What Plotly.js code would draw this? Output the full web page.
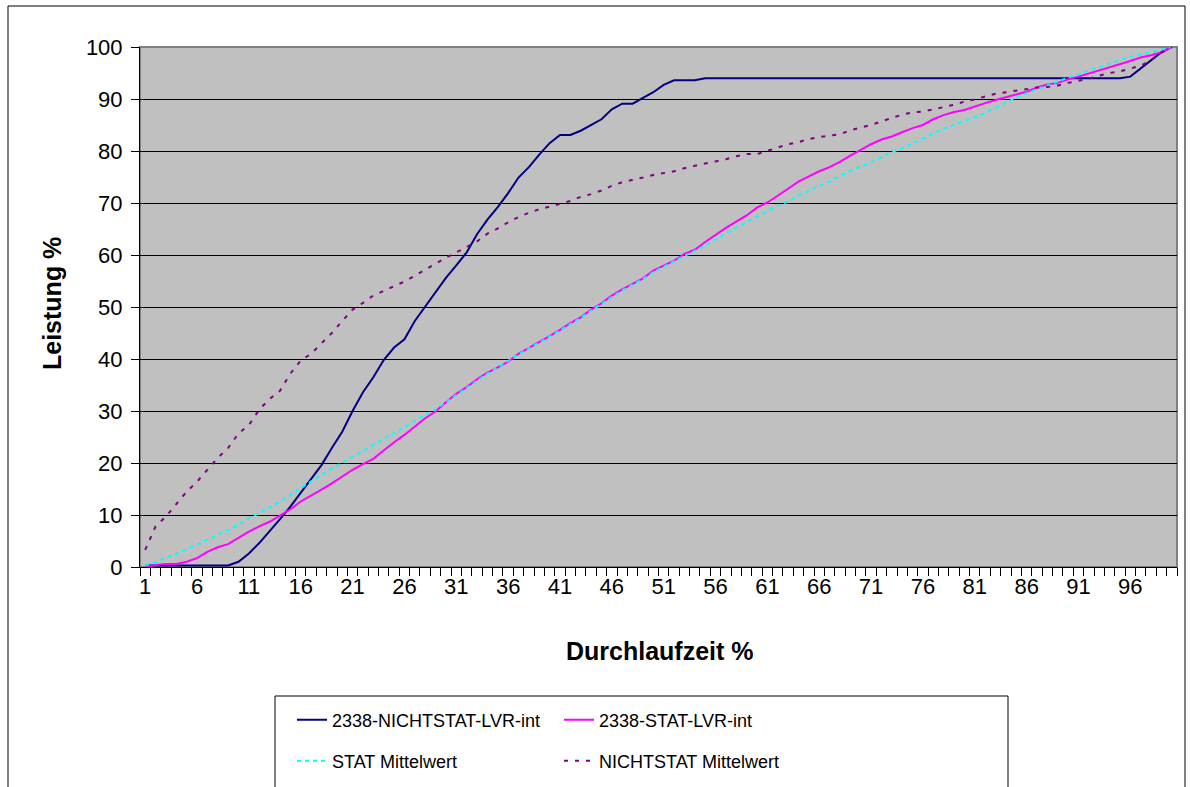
<!DOCTYPE html>
<html>
<head>
<meta charset="utf-8">
<script src="https://cdn.plot.ly/plotly-3.0.1.min.js"></script>
<style>html,body{margin:0;padding:0;background:#fff;}#chart{width:1190px;height:787px;}</style>
</head>
<body>
<div id="chart"></div>
<script>
// ---- data ----
const categories = [1,2,3,4,5,6,7,8,9,10,11,12,13,14,15,16,17,18,19,20,21,22,23,24,25,26,27,28,29,30,
31,32,33,34,35,36,37,38,39,40,41,42,43,44,45,46,47,48,49,50,51,52,53,54,55,56,57,58,59,60,
61,62,63,64,65,66,67,68,69,70,71,72,73,74,75,76,77,78,79,80,81,82,83,84,85,86,87,88,89,90,
91,92,93,94,95,96,97,98,99,100];
const xTickLabels = ['1','6','11','16','21','26','31','36','41','46','51','56','61','66','71','76','81','86','91','96'];
const seriesNames = ['2338-NICHTSTAT-LVR-int','2338-STAT-LVR-int','STAT Mittelwert','NICHTSTAT Mittelwert'];

const nichtstatLVR = [0.3,0.3,0.3,0.3,0.3,0.3,0.3,0.3,0.3,1.0,
 2.6,4.6,6.8,9.2,11.6,14.2,17.0,19.6,22.9,26.0,
 30.0,33.6,36.5,39.8,42.2,43.8,47.3,50.1,52.8,55.6,
 58.0,60.5,64.0,66.8,69.2,71.9,74.9,76.9,79.3,81.5,
 83.1,83.1,83.9,85.0,86.1,88.0,89.1,89.1,90.2,91.3,
 92.7,93.6,93.6,93.6,94.0,94.0,94.0,94.0,94.0,94.0,
 94.0,94.0,94.0,94.0,94.0,94.0,94.0,94.0,94.0,94.0,
 94.0,94.0,94.0,94.0,94.0,94.0,94.0,94.0,94.0,94.0,
 94.0,94.0,94.0,94.0,94.0,94.0,94.0,94.0,94.0,94.0,
 94.0,94.0,94.0,94.0,94.0,94.3,95.9,97.5,99.0,100];
const statLVR = [0,0.4,0.6,0.6,1.0,1.7,2.9,3.8,4.4,5.6,
 6.8,7.8,8.7,9.9,11.1,12.6,13.7,14.9,16.1,17.4,
 18.7,19.8,20.8,22.4,24.0,25.4,27.0,28.6,29.9,31.7,
 33.3,34.6,36.1,37.4,38.4,39.5,41.0,42.1,43.2,44.4,
 45.6,46.9,48.0,49.5,50.7,52.2,53.4,54.4,55.5,57.0,
 57.9,58.9,60.2,61.0,62.5,63.9,65.2,66.4,67.6,69.1,
 70.1,71.4,72.8,74.1,75.1,76.1,76.9,77.9,79.1,80.2,
 81.3,82.2,82.8,83.6,84.4,85.0,86.1,86.9,87.5,87.9,
 88.6,89.2,89.8,90.3,90.9,91.4,92.2,92.8,93.1,93.8,
 94.3,94.9,95.4,96.0,96.6,97.3,98.0,98.4,99.0,100];
const statMittel = [0.3,0.9,1.8,2.5,3.4,4.3,5.3,6.2,7.1,8.1,
 9.4,10.4,11.4,12.6,13.8,15.2,16.5,17.7,18.9,20.1,
 21.2,22.3,23.4,24.6,25.8,26.8,28.1,29.3,30.3,31.7,
 33.1,34.5,35.9,37.2,38.4,39.6,40.9,42.1,43.1,44.3,
 45.6,46.8,47.9,49.3,50.6,52.0,53.2,54.3,55.4,56.7,
 57.8,58.8,59.8,60.8,61.8,63.0,64.2,65.3,66.3,67.3,
 68.4,69.5,70.3,71.4,72.4,73.3,74.1,75.1,76.2,77.0,
 77.8,78.8,79.8,80.5,81.4,82.3,83.3,84.3,85.0,85.8,
 86.5,87.3,88.3,89.4,90.3,91.1,91.9,92.7,93.4,94.1,
 94.8,95.5,96.2,96.9,97.5,98.1,98.6,99.0,99.6,100];
const nichtstatMittel = [3.3,7.8,9.7,12.2,14.5,16.4,18.7,21.0,22.9,25.7,
 27.3,30.3,32.3,33.9,37.2,39.7,41.0,43.0,45.0,47.3,
 49.5,50.8,52.2,53.1,54.0,54.9,56.0,57.2,58.4,59.5,
 60.5,61.6,62.6,64.1,65.1,66.3,67.3,68.1,68.8,69.3,
 69.9,70.4,71.2,71.7,72.4,73.3,74.0,74.4,74.9,75.4,
 75.8,76.1,76.7,77.2,77.6,78.0,78.4,79.0,79.4,79.4,
 80.0,80.7,81.3,81.7,82.3,82.7,83.0,83.2,84.0,84.5,
 85.0,85.7,86.4,87.0,87.4,87.6,88.0,88.4,88.9,89.5,
 89.9,90.5,91.0,91.3,91.6,91.9,92.2,92.3,92.6,93.1,
 93.5,93.9,94.5,95.0,95.3,95.8,96.4,97.5,98.9,100];

// ---- chart ----
const cats = categories.map(String);
const tickText = cats.map(c => xTickLabels.includes(c) ? c : '');
const FONT = 'Liberation Sans, Arial, sans-serif';

const traces = [
  {x: cats, y: nichtstatLVR, name: seriesNames[0], type: 'scatter', mode: 'lines',
   line: {color: '#000080', width: 2}, legend: 'legend'},
  {x: cats, y: statLVR, name: seriesNames[1], type: 'scatter', mode: 'lines',
   line: {color: '#FF00FF', width: 2}, legend: 'legend'},
  {x: cats, y: statMittel, name: seriesNames[2], type: 'scatter', mode: 'lines',
   line: {color: '#00FFFF', width: 2, dash: '4px,4px'}, legend: 'legend2'},
  {x: cats, y: nichtstatMittel, name: seriesNames[3], type: 'scatter', mode: 'lines',
   line: {color: '#800080', width: 2, dash: '4px,7px'}, legend: 'legend2'}
];

const W = 1190, H = 787;
const L = 140, R = 1177, T = 47, B = 567;
const px = v => (v - L) / (R - L);
const py = v => (B - v) / (B - T);
const cx = v => v / W;
const cy = v => 1 - v / H;

const legendCommon = {
  orientation: 'h', xanchor: 'left', yanchor: 'middle',
  xref: 'container', yref: 'container',
  bgcolor: 'rgba(0,0,0,0)', borderwidth: 0,
  font: {family: FONT, size: 18, color: '#000'},
  entrywidth: 222, entrywidthmode: 'pixels', itemclick: false, itemdoubleclick: false
};

const layout = {
  width: W, height: H,
  margin: {l: L, r: W - R, t: T, b: H - B, pad: 0},
  paper_bgcolor: '#ffffff', plot_bgcolor: '#C0C0C0',
  font: {family: FONT, size: 22, color: '#000'},
  showlegend: true,
  xaxis: {
    type: 'category', range: [-0.5, 99.5], fixedrange: true, automargin: false,
    tickmode: 'array', tickvals: cats, ticktext: tickText, tickson: 'boundaries',
    ticks: 'outside', ticklen: 8, tickwidth: 1, tickcolor: '#000',
    showgrid: false, zeroline: false, showline: true, linecolor: '#000', linewidth: 1,
    tickfont: {family: FONT, size: 22, color: '#000'}, tickangle: 0
  },
  yaxis: {
    range: [0, 100], dtick: 10, tick0: 0, fixedrange: true, automargin: false,
    ticks: 'outside', ticklen: 8, tickwidth: 1, tickcolor: '#000',
    showgrid: true, gridcolor: '#000', gridwidth: 1, zeroline: false,
    showline: true, linecolor: '#000', linewidth: 1,
    tickfont: {family: FONT, size: 22, color: '#000'}, ticklabelstandoff: 4
  },
  legend: Object.assign({}, legendCommon, {x: cx(292), y: cy(720)}),
  legend2: Object.assign({}, legendCommon, {x: cx(292), y: cy(761)}),
  shapes: [
    {type: 'rect', xref: 'paper', yref: 'paper', x0: 0, x1: 1, y0: 0, y1: 1,
     line: {color: '#808080', width: 2}, fillcolor: 'rgba(0,0,0,0)', layer: 'below'},
    {type: 'rect', xref: 'paper', yref: 'paper', x0: px(8), x1: px(1185), y0: py(800), y1: py(6),
     line: {color: '#000', width: 1}, fillcolor: 'rgba(0,0,0,0)', layer: 'above'},
    {type: 'rect', xref: 'paper', yref: 'paper', x0: px(275), x1: px(1008), y0: py(800), y1: py(696),
     line: {color: '#000', width: 1}, fillcolor: 'rgba(0,0,0,0)', layer: 'above'}
  ],
  annotations: [
    {text: 'Leistung %', xref: 'paper', yref: 'paper', x: px(52), y: py(304),
     xanchor: 'center', yanchor: 'middle', textangle: -90, showarrow: false,
     font: {family: FONT, size: 25, color: '#000', weight: 'bold'}},
    {text: 'Durchlaufzeit %', xref: 'paper', yref: 'paper', x: px(660), y: py(651),
     xanchor: 'center', yanchor: 'middle', showarrow: false,
     font: {family: FONT, size: 25, color: '#000', weight: 'bold'}}
  ]
};

Plotly.newPlot('chart', traces, layout, {displayModeBar: false, staticPlot: true});
</script>
</body>
</html>
